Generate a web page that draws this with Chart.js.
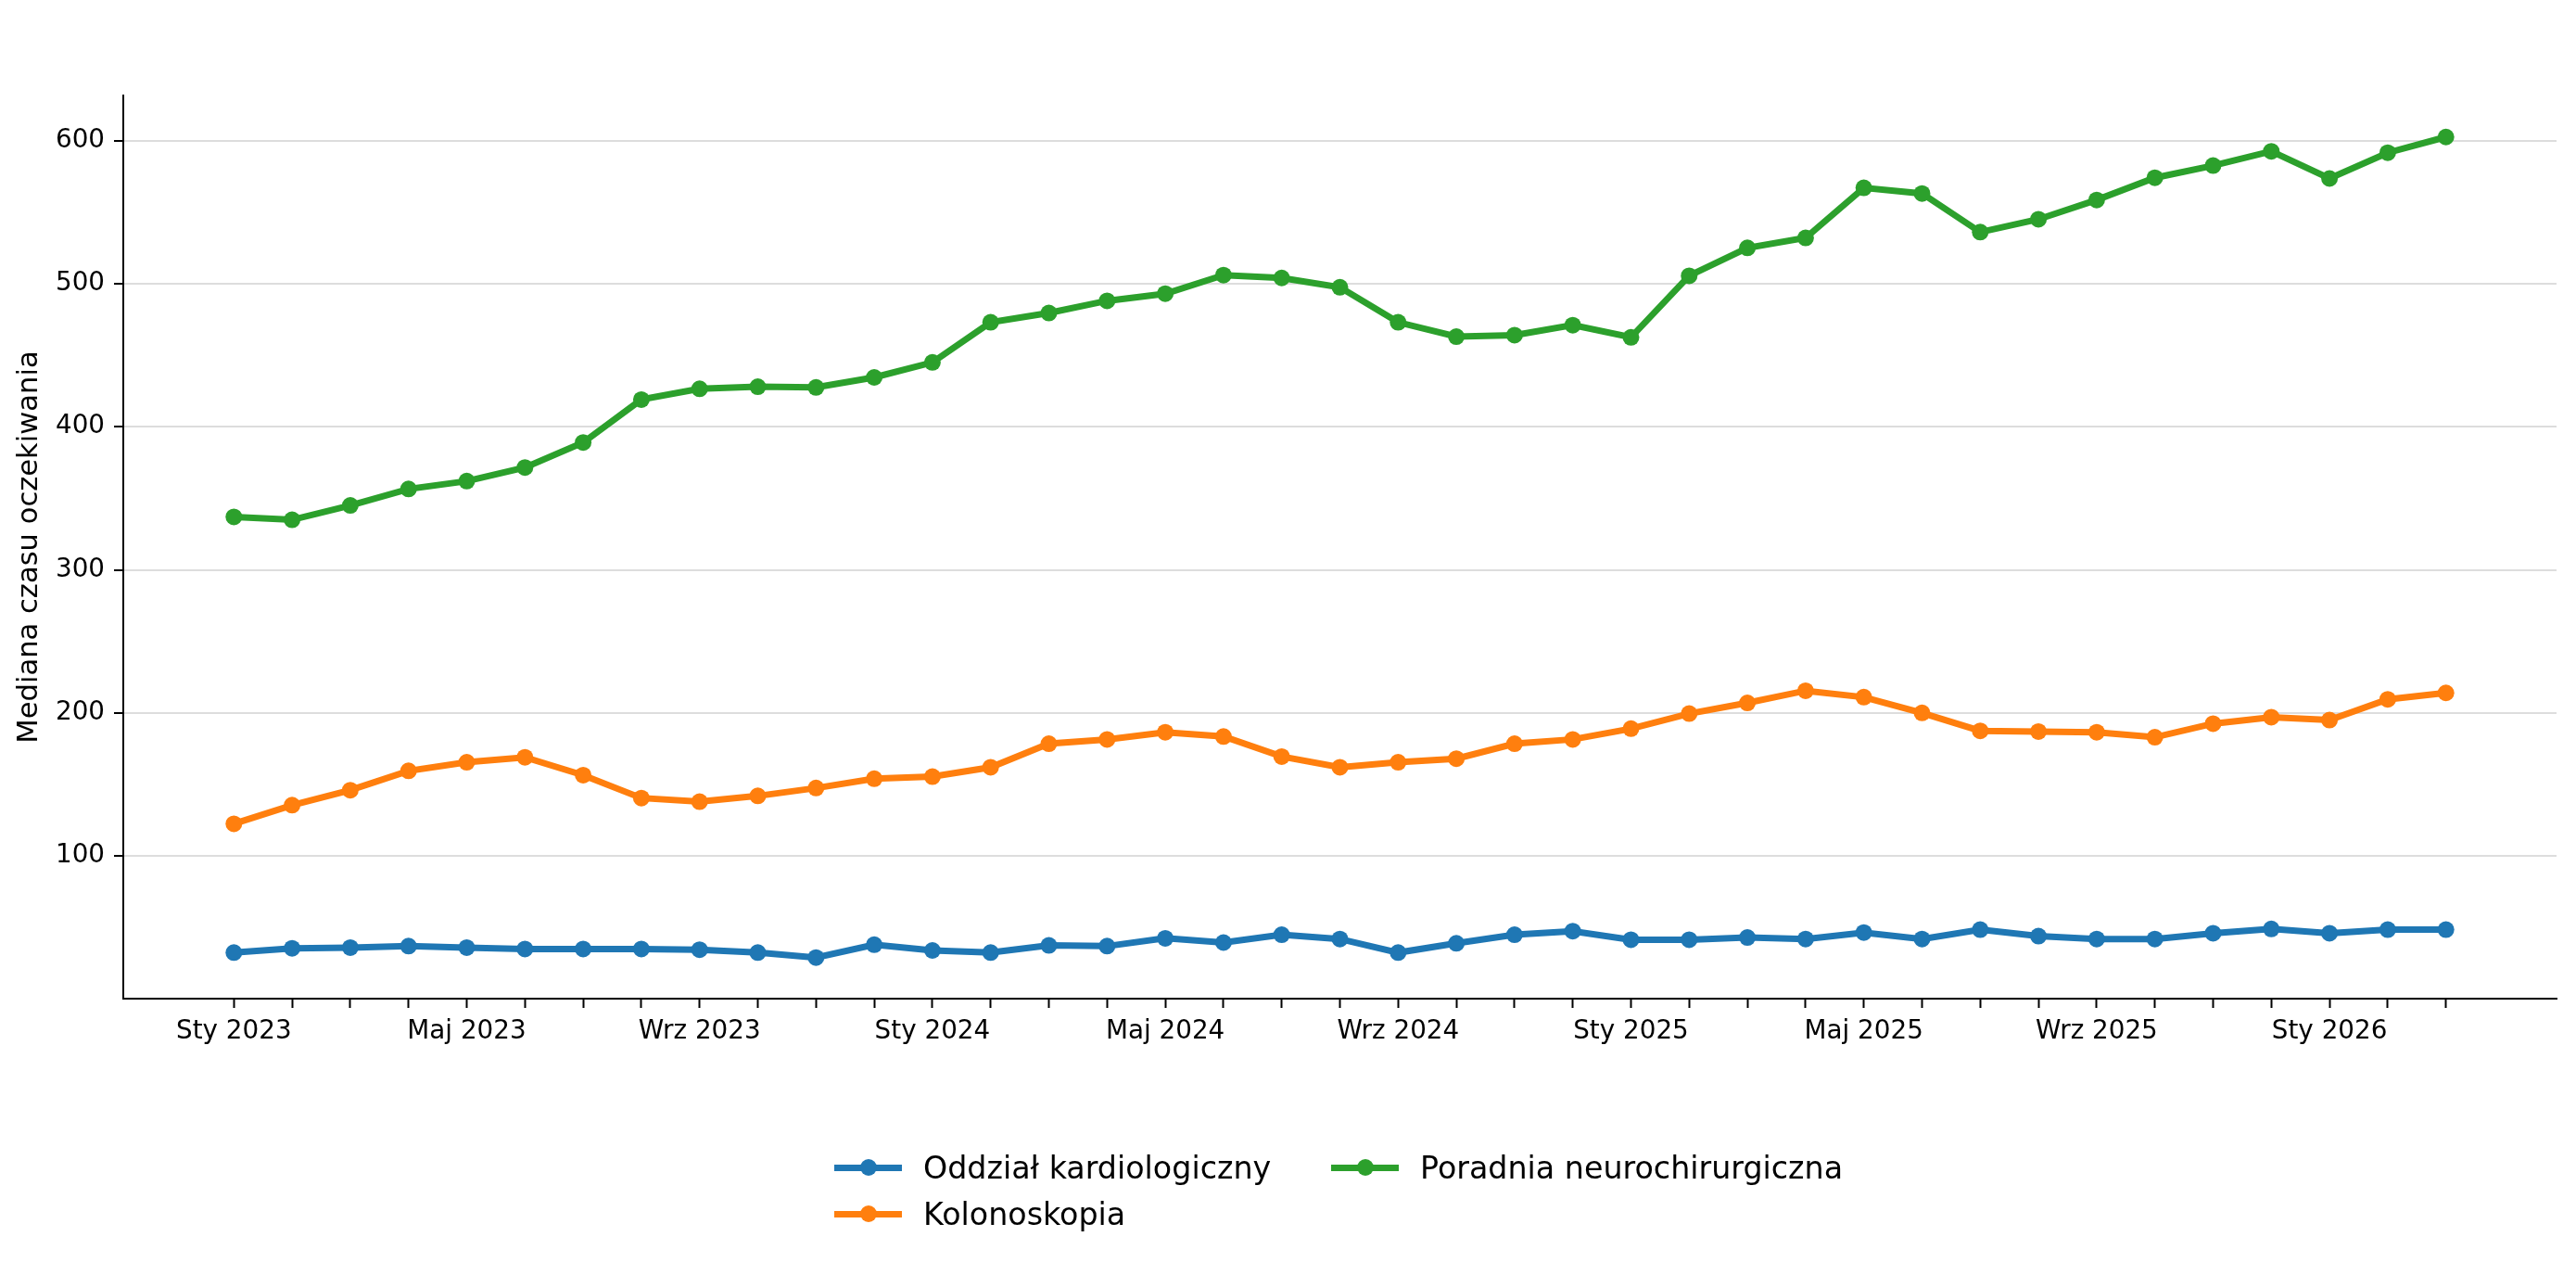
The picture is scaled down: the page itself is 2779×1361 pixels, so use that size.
<!DOCTYPE html>
<html>
<head>
<meta charset="utf-8">
<script src="https://cdn.jsdelivr.net/npm/chart.js@4"></script>
<style>
    body { margin: 0; background: #fff; font-family: "DejaVu Sans", sans-serif; }
    #wrap { position: relative; width: 2779px; height: 1361px; }
    #legend { position: absolute; left: 900px; top: 1234px; display: grid;
              grid-template-columns: 536px auto; grid-auto-flow: column; grid-template-rows: 50px 50px;
              font-size: 33.3px; color: #000; }
    .item { display: flex; align-items: center; }
    .handle { position: relative; width: 73px; height: 7px; margin-right: 23px; }
    .handle .dot { position: absolute; left: 27.5px; top: -5.5px; width: 18px; height: 18px; border-radius: 50%; }
</style>
</head>
<body>
<div id="wrap">
    <canvas id="chart" width="2779" height="1361"></canvas>
    <div id="legend"></div>
</div>
<script>
// months Jan 2023 .. Mar 2026
var monthNames = ['Sty', 'Lut', 'Mar', 'Kwi', 'Maj', 'Cze', 'Lip', 'Sie', 'Wrz', 'Paź', 'Lis', 'Gru'];
var months = [];
for (var y = 2023; y <= 2026; y++) {
    for (var m = 0; m < 12; m++) {
        if (y === 2026 && m > 2) break;
        months.push(monthNames[m] + ' ' + y);
    }
}

var seriesNames = ['Oddział kardiologiczny', 'Kolonoskopia', 'Poradnia neurochirurgiczna'];
var colors = ['#1f77b4', '#ff7f0e', '#2ca02c'];

var kardio = [32.5, 35.5, 36, 37, 36, 35, 35, 35, 34.5, 32.5, 29, 38, 34, 32.5, 37.5, 37, 42.5, 39.5, 45, 42,
    32.5, 39, 45, 47.5, 41.5, 41.5, 43, 42, 46.5, 42, 48.5, 44, 42, 42, 46, 49, 46, 48.5, 48.5];
var kolono = [122.5, 135.5, 146, 159.5, 165.5, 169, 156.5, 140.5, 138, 142, 147.5, 154, 155.5, 162, 178.5, 181.5,
    186.5, 183.5, 169.5, 162, 165.5, 168, 178.5, 181.5, 189, 199.5, 207, 215.5, 211, 200, 187.5, 187, 186.5, 183,
    192.5, 197, 195, 209.5, 214];
var neuro = [337, 335, 345, 356.5, 362, 371.5, 389, 419, 426.5, 428, 427.5, 434.5, 445, 473, 479.5, 488, 493, 506,
    504, 497.5, 473, 463, 464, 471, 462.5, 505.5, 525, 532, 567, 563, 536, 545, 558.5, 574, 582.5, 592.5, 573.5,
    591.5, 602.5];

var yTicks = [100, 200, 300, 400, 500, 600];
var labelEvery = 4;

function toPoints(arr) {
    return arr.map(function(v, i) { return { x: i, y: v }; });
}

var allSeries = [kardio, kolono, neuro];
var datasets = allSeries.map(function(arr, k) {
    return {
        label: seriesNames[k],
        data: toPoints(arr),
        borderColor: colors[k],
        backgroundColor: colors[k],
        borderWidth: 7,
        pointRadius: 9,
        pointBorderWidth: 0,
        pointBackgroundColor: colors[k],
        tension: 0
    };
});

var font = "'DejaVu Sans', sans-serif";

new Chart(document.getElementById('chart').getContext('2d'), {
    type: 'line',
    data: { datasets: datasets },
    options: {
        responsive: false,
        animation: false,
        devicePixelRatio: 1,
        layout: { padding: { top: 103, right: 21, left: 0, bottom: 224 } },
        plugins: { legend: { display: false }, tooltip: { enabled: false } },
        scales: {
            x: {
                type: 'linear',
                min: -1.9,
                max: months.length - 1 + 1.9,
                afterBuildTicks: function(scale) {
                    scale.ticks = months.map(function(_, i) { return { value: i }; });
                },
                afterFit: function(scale) { scale.height = 60; },
                ticks: {
                    autoSkip: false,
                    maxRotation: 0,
                    padding: 9,
                    color: '#000',
                    font: { family: font, size: 27.8 },
                    callback: function(v) { return v % labelEvery === 0 ? months[v] : ''; }
                },
                grid: { drawOnChartArea: false, tickLength: 10, tickColor: '#000', tickWidth: 2 },
                border: { color: '#000', width: 2 }
            },
            y: {
                min: 0.3,
                max: 631.5,
                afterBuildTicks: function(scale) {
                    scale.ticks = yTicks.map(function(v) { return { value: v }; });
                },
                afterFit: function(scale) { scale.width = 133; },
                ticks: {
                    padding: 10,
                    color: '#000',
                    font: { family: font, size: 27.8 }
                },
                grid: { color: '#dddddd', lineWidth: 2, tickLength: 10, tickColor: '#000', tickWidth: 2 },
                border: { color: '#000', width: 2 },
                title: {
                    display: true,
                    text: 'Mediana czasu oczekiwania',
                    color: '#000',
                    font: { family: font, size: 30.6 },
                    padding: { top: 14, bottom: 0 }
                }
            }
        }
    }
});

// legend, column-wise like the original
var legendBox = document.getElementById('legend');
seriesNames.forEach(function(name, k) {
    var item = document.createElement('div');
    item.className = 'item';
    item.innerHTML = '<span class="handle" style="background:' + colors[k] + '"><span class="dot" style="background:' +
        colors[k] + '"></span></span><span>' + name + '</span>';
    legendBox.appendChild(item);
});
</script>
</body>
</html>
